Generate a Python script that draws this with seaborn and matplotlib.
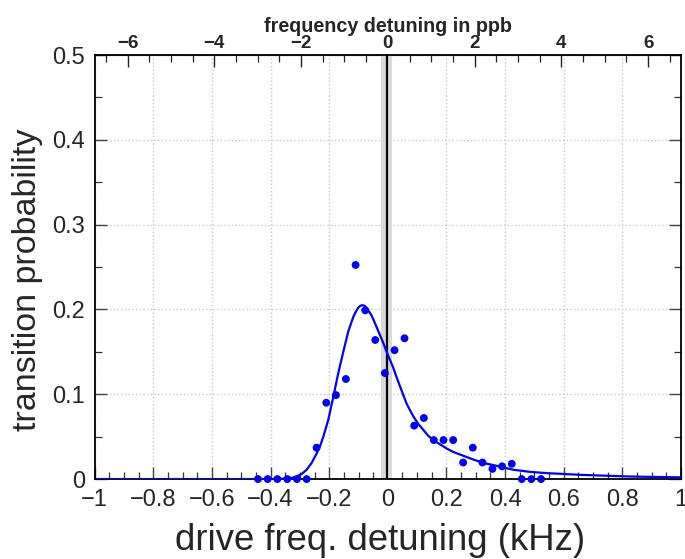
import numpy as np
import pandas as pd
import matplotlib
matplotlib.use("Agg")
import matplotlib.pyplot as plt
from matplotlib.ticker import MultipleLocator, FixedLocator
import seaborn as sns

# measured points: drive detuning (kHz) and transition probability
detuning_khz = [-0.443, -0.410, -0.377, -0.343, -0.310, -0.277, -0.243, -0.210,
                -0.177, -0.143, -0.110, -0.077, -0.043, -0.010, 0.023, 0.057,
                0.090, 0.123, 0.157, 0.190, 0.223, 0.257, 0.290, 0.323,
                0.357, 0.390, 0.423, 0.457, 0.490, 0.523]
probability = [0.0, 0.0, 0.0, 0.0, 0.0, 0.0, 0.037, 0.090,
               0.099, 0.118, 0.2525, 0.199, 0.164, 0.125, 0.152, 0.166,
               0.063, 0.072, 0.046, 0.046, 0.046, 0.0195, 0.037, 0.0195,
               0.012, 0.015, 0.018, 0.0, 0.0, 0.0]

# fitted line-shape
fit_x = [-1.0, -0.60, -0.40, -0.35, -0.330, -0.311, -0.294, -0.277, -0.260,
         -0.243, -0.231, -0.220, -0.203, -0.186, -0.169, -0.152, -0.135,
         -0.118, -0.109, -0.101, -0.095, -0.089, -0.083, -0.078, -0.072,
         -0.065, -0.057, -0.049, -0.038, -0.027, -0.015, -0.004, 0.008,
         0.019, 0.030, 0.042, 0.053, 0.064, 0.076, 0.087, 0.104,
         0.121, 0.138, 0.155, 0.178, 0.201, 0.223, 0.246, 0.269, 0.292,
         0.326, 0.380, 0.428, 0.485, 0.542, 0.600, 0.655, 0.740, 0.826, 1.0]
fit_y = [0.0, 0.0, 0.0, 0.0005, 0.0012, 0.003, 0.006, 0.011, 0.019,
         0.030, 0.039, 0.050, 0.070, 0.097, 0.125, 0.150, 0.174,
         0.191, 0.1975, 0.202, 0.204, 0.205, 0.2048, 0.204, 0.2015,
         0.198, 0.194, 0.188, 0.179, 0.170, 0.160, 0.150, 0.140,
         0.131, 0.120, 0.109, 0.099, 0.089, 0.081, 0.074, 0.065,
         0.058, 0.051, 0.046, 0.041, 0.036, 0.032, 0.029, 0.026, 0.023,
         0.019, 0.015, 0.011, 0.0085, 0.007, 0.006, 0.005, 0.004, 0.003, 0.002]

center_khz = -0.004
band_lo, band_hi = -0.022, 0.014
khz_per_ppb = 0.148
ppb_ticks = [-6, -4, -2, 0, 2, 4, 6]

sns.set_style("white")
plt.rcParams['font.family'] = ['Liberation Sans', 'DejaVu Sans']
plt.rcParams['axes.unicode_minus'] = True

fig = plt.figure(figsize=(6.85, 5.59), dpi=100)
ax = fig.add_axes([0.1383, 0.143, 0.8557, 0.7585])

ax.axvspan(band_lo, band_hi, color='#d9d9d9', lw=0, zorder=1)
ax.axvline(center_khz, color='black', lw=1.6, zorder=2)

pts = pd.DataFrame({"x": detuning_khz, "y": probability})
fit = pd.DataFrame({"x": fit_x, "y": fit_y})
sns.lineplot(data=fit, x="x", y="y", ax=ax, color='#0000ff', lw=1.6,
             sort=False, zorder=3)
sns.scatterplot(data=pts, x="x", y="y", ax=ax, color='#0000ff', s=32,
                edgecolor='none', zorder=4, clip_on=False)

ax.set_xlim(-1, 1)
ax.set_ylim(0, 0.5)
ax.xaxis.set_major_locator(MultipleLocator(0.2))
ax.xaxis.set_minor_locator(MultipleLocator(0.05))
ax.yaxis.set_major_locator(MultipleLocator(0.1))
ax.yaxis.set_minor_locator(MultipleLocator(0.05))


def xfmt(v, p):
    if abs(v) < 1e-9:
        return '0'
    if abs(abs(v) - 1) < 1e-9:
        return ('\u2212' if v < 0 else '') + '1'
    return f'{v:.1f}'.replace('-', '\u2212')


ax.xaxis.set_major_formatter(plt.FuncFormatter(xfmt))
ax.yaxis.set_major_formatter(plt.FuncFormatter(
    lambda v, p: '0' if abs(v) < 1e-9 else f'{v:.1f}'))

ax.grid(True, which='major', color='#c8c8c8', linestyle=':', lw=1.0)
ax.set_axisbelow(True)
for s in ax.spines.values():
    s.set_color('black')
    s.set_linewidth(1.3)

ax.tick_params(axis='both', which='major', direction='in', length=8.6,
               width=1.0, color='#444444', labelsize=17, pad=7)
ax.tick_params(axis='both', which='minor', direction='in', length=5,
               width=0.9, color='#333333')
ax.tick_params(axis='y', which='both', left=True, right=True)
ax.tick_params(axis='x', which='both', bottom=True, top=False)

ax.set_xlabel('drive freq. detuning (kHz)', fontsize=26.3)
ax.xaxis.set_label_coords(0.4866, -0.1025)
ax.set_ylabel('transition probability', fontsize=24.5)
ax.yaxis.set_label_coords(-0.0882, 0.471)

sec = ax.secondary_xaxis('top', functions=(lambda k: k / khz_per_ppb,
                                           lambda p: p * khz_per_ppb))
sec.xaxis.set_major_locator(FixedLocator(ppb_ticks))
sec.xaxis.set_minor_locator(MultipleLocator(0.5))
sec.xaxis.set_major_formatter(plt.FuncFormatter(
    lambda v, p: f'{int(round(v))}'.replace('-', '\u2212')))
sec.tick_params(axis='x', which='major', direction='in', length=8.6, width=1.0,
                color='#222222', labelsize=13.5, pad=2.5)
sec.tick_params(axis='x', which='minor', direction='in', length=5,
                width=0.9, color='#222222')
for lab in sec.get_xticklabels():
    lab.set_fontweight('bold')
sec.set_xlabel('frequency detuning in ppb', fontsize=14.2, fontweight='bold',
               labelpad=2)

fig.savefig('out.png', dpi=100)
